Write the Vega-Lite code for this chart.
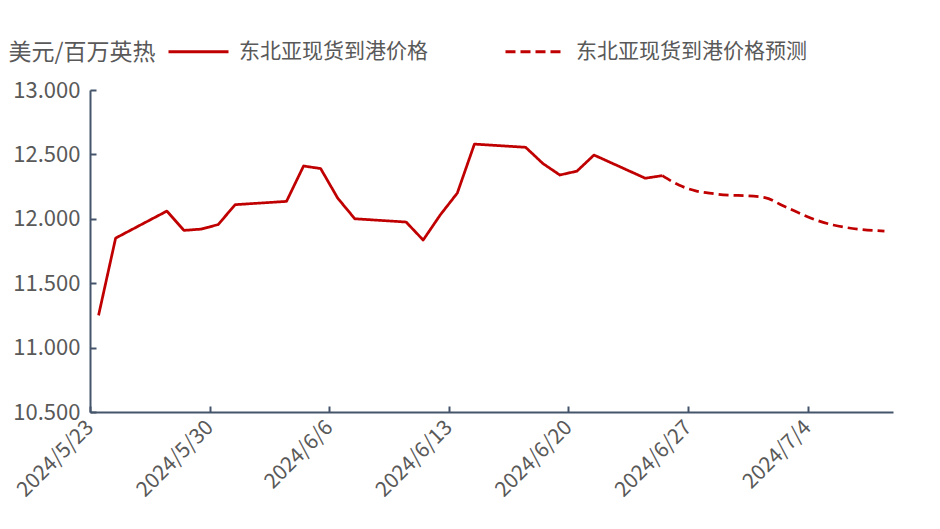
{
  "$schema": "https://vega.github.io/schema/vega-lite/v6.json",
  "width": 803,
  "height": 322,
  "autosize": {"type": "none"},
  "padding": {"left": 90, "top": 90, "right": 47, "bottom": 117},
  "background": "white",
  "config": {
    "view": {"stroke": null},
    "font": "Noto Sans CJK SC",
    "axis": {"grid": false, "domainColor": "#44546A", "domainWidth": 2, "tickColor": "#44546A", "tickWidth": 2, "labelColor": "#595959", "labelFont": "Noto Sans CJK SC"}
  },
  "data": {
    "values": [
      {"date": "2024-05-23T00:00:00", "value": 11.25, "series": "东北亚现货到港价格"},
      {"date": "2024-05-24T00:00:00", "value": 11.85, "series": "东北亚现货到港价格"},
      {"date": "2024-05-27T00:00:00", "value": 12.06, "series": "东北亚现货到港价格"},
      {"date": "2024-05-28T00:00:00", "value": 11.91, "series": "东北亚现货到港价格"},
      {"date": "2024-05-29T00:00:00", "value": 11.92, "series": "东北亚现货到港价格"},
      {"date": "2024-05-30T00:00:00", "value": 11.955, "series": "东北亚现货到港价格"},
      {"date": "2024-05-31T00:00:00", "value": 12.11, "series": "东北亚现货到港价格"},
      {"date": "2024-06-03T00:00:00", "value": 12.135, "series": "东北亚现货到港价格"},
      {"date": "2024-06-04T00:00:00", "value": 12.41, "series": "东北亚现货到港价格"},
      {"date": "2024-06-05T00:00:00", "value": 12.39, "series": "东北亚现货到港价格"},
      {"date": "2024-06-06T00:00:00", "value": 12.16, "series": "东北亚现货到港价格"},
      {"date": "2024-06-07T00:00:00", "value": 12.0, "series": "东北亚现货到港价格"},
      {"date": "2024-06-10T00:00:00", "value": 11.975, "series": "东北亚现货到港价格"},
      {"date": "2024-06-11T00:00:00", "value": 11.835, "series": "东北亚现货到港价格"},
      {"date": "2024-06-12T00:00:00", "value": 12.03, "series": "东北亚现货到港价格"},
      {"date": "2024-06-13T00:00:00", "value": 12.2, "series": "东北亚现货到港价格"},
      {"date": "2024-06-14T00:00:00", "value": 12.58, "series": "东北亚现货到港价格"},
      {"date": "2024-06-17T00:00:00", "value": 12.555, "series": "东北亚现货到港价格"},
      {"date": "2024-06-18T00:00:00", "value": 12.43, "series": "东北亚现货到港价格"},
      {"date": "2024-06-19T00:00:00", "value": 12.34, "series": "东北亚现货到港价格"},
      {"date": "2024-06-20T00:00:00", "value": 12.37, "series": "东北亚现货到港价格"},
      {"date": "2024-06-21T00:00:00", "value": 12.495, "series": "东北亚现货到港价格"},
      {"date": "2024-06-24T00:00:00", "value": 12.315, "series": "东北亚现货到港价格"},
      {"date": "2024-06-25T00:00:00", "value": 12.335, "series": "东北亚现货到港价格"},
      {"date": "2024-06-25T00:00:00", "value": 12.335, "series": "东北亚现货到港价格预测"},
      {"date": "2024-06-26T00:00:00", "value": 12.26, "series": "东北亚现货到港价格预测"},
      {"date": "2024-06-27T00:00:00", "value": 12.215, "series": "东北亚现货到港价格预测"},
      {"date": "2024-06-28T00:00:00", "value": 12.195, "series": "东北亚现货到港价格预测"},
      {"date": "2024-07-01T00:00:00", "value": 12.165, "series": "东北亚现货到港价格预测"},
      {"date": "2024-07-02T00:00:00", "value": 12.105, "series": "东北亚现货到港价格预测"},
      {"date": "2024-07-03T00:00:00", "value": 12.045, "series": "东北亚现货到港价格预测"},
      {"date": "2024-07-04T00:00:00", "value": 11.99, "series": "东北亚现货到港价格预测"},
      {"date": "2024-07-05T00:00:00", "value": 11.952, "series": "东北亚现货到港价格预测"},
      {"date": "2024-07-08T00:00:00", "value": 11.905, "series": "东北亚现货到港价格预测"}
    ]
  },
  "encoding": {
    "x": {
      "field": "date",
      "type": "temporal",
      "scale": {"domain": [{"year": 2024, "month": 5, "date": 22, "hours": 12}, {"year": 2024, "month": 7, "date": 8, "hours": 12}]},
      "axis": {
        "title": null,
        "values": [{"year": 2024, "month": 5, "date": 23}, {"year": 2024, "month": 5, "date": 30}, {"year": 2024, "month": 6, "date": 6}, {"year": 2024, "month": 6, "date": 13}, {"year": 2024, "month": 6, "date": 20}, {"year": 2024, "month": 6, "date": 27}, {"year": 2024, "month": 7, "date": 4}],
        "format": "%Y/%-m/%-d",
        "tickOffset": -8.5,
        "tickSize": -6,
        "labelAngle": -45,
        "labelAlign": "right",
        "labelBaseline": "middle",
        "labelPadding": 18,
        "labelFontSize": 21,
        "labelOverlap": false
      }
    },
    "y": {
      "field": "value",
      "type": "quantitative",
      "scale": {"domain": [10.5, 13], "nice": false, "zero": false},
      "axis": {
        "values": [10.5, 11, 11.5, 12, 12.5, 13],
        "format": ".3f",
        "tickSize": -6,
        "labelPadding": 16,
        "labelFontSize": 22,
        "title": "美元/百万英热",
        "titleAngle": 0,
        "titleAlign": "left",
        "titleBaseline": "middle",
        "titleX": -82,
        "titleY": -38,
        "titleFontSize": 23,
        "titleFontWeight": "normal",
        "titleColor": "#595959"
      }
    },
    "color": {
      "field": "series",
      "type": "nominal",
      "scale": {"domain": ["东北亚现货到港价格", "东北亚现货到港价格预测"], "range": ["#C00000", "#C00000"]},
      "legend": {
        "title": null,
        "orient": "none",
        "direction": "horizontal",
        "legendX": 77,
        "legendY": -70,
        "symbolType": "stroke",
        "symbolSize": 3600,
        "symbolStrokeWidth": 3,
        "labelFontSize": 21,
        "labelColor": "#595959",
        "labelOffset": 9,
        "labelLimit": 0,
        "columnPadding": 71,
        "padding": 0
      }
    },
    "strokeDash": {
      "field": "series",
      "type": "nominal",
      "scale": {"domain": ["东北亚现货到港价格", "东北亚现货到港价格预测"], "range": [[1, 0], [10, 5]]},
      "legend": {
        "title": null,
        "orient": "none",
        "direction": "horizontal",
        "legendX": 77,
        "legendY": -70,
        "symbolType": "stroke",
        "symbolSize": 3600,
        "symbolStrokeWidth": 3,
        "labelFontSize": 21,
        "labelColor": "#595959",
        "labelOffset": 9,
        "labelLimit": 0,
        "columnPadding": 71,
        "padding": 0
      }
    }
  },
  "layer": [
    {
      "transform": [{"filter": "datum.series === '东北亚现货到港价格'"}],
      "mark": {"type": "line", "strokeWidth": 2.75, "strokeJoin": "round"}
    },
    {
      "transform": [{"filter": "datum.series === '东北亚现货到港价格预测'"}],
      "mark": {"type": "line", "strokeWidth": 2.75, "interpolate": "monotone"}
    }
  ]
}
